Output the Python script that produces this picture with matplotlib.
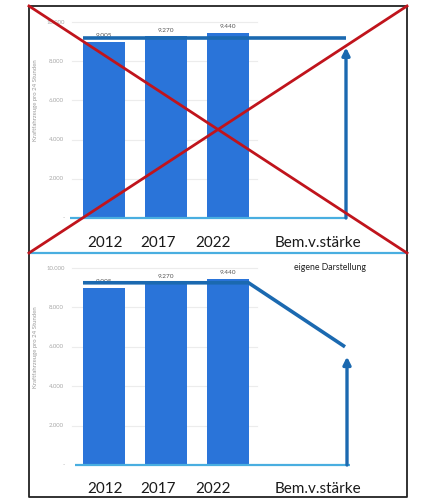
import matplotlib
matplotlib.use("Agg")
import matplotlib.pyplot as plt
from matplotlib.lines import Line2D

# ---------------- data ----------------
years = ["2012", "2017", "2022"]
values = [9005, 9270, 9440]
value_labels = ["9.005", "9.270", "9.440"]
extra_label = "Bem.v.stärke"
ytick_values = [0, 2000, 4000, 6000, 8000, 10000]
ytick_labels = ["-", "2.000", "4.000", "6.000", "8.000", "10.000"]
ylabel = "Kraftfahrzeuge pro 24 Stunden"
note = "eigene Darstellung"
top_line_level = 9200      # horizontal line (upper, crossed-out panel)
top_arrow_tip = 8700
bottom_line_level = 9250   # line start level (lower panel)
bottom_line_end = 6000     # line end (projection)
bottom_arrow_tip = 5500

# ---------------- style ----------------
W, H = 424, 499
BAR = "#2a74d9"
LINE = "#1b69b0"
BASE = "#49aee0"
GRID = "#ececec"
TICK = "#a8a8a8"
RED = "#c0141c"
FONT = "Lato"

fig = plt.figure(figsize=(W / 100, H / 100), dpi=100)
fig.patch.set_facecolor("white")

def fx(px):
    return px / W

def fy(py):
    return 1 - py / H

# x mapping: category i -> pixel 104 + 61.75*i
X0, DX = 104.0, 61.75
def xd(px):
    return (px - X0) / DX

bar_w = 42 / DX
label_x = [xd(105), xd(158), xd(213), xd(318)]
arrow_x = xd(346)

def make_panel(py_top, py_bot, py_zero, py_10k):
    ppu = (py_zero - py_10k) / 10000.0
    ax = fig.add_axes([fx(29), fy(py_bot), fx(407) - fx(29), (py_bot - py_top) / H])
    ax.set_xlim(xd(29), xd(407))
    ax.set_ylim(-(py_bot - py_zero) / ppu, (py_zero - py_top) / ppu)
    ax.axis("off")
    return ax, ppu

def common(ax, ppu, py_zero, base_from, base_to, label_py):
    # gridlines
    for v in ytick_values[1:]:
        ax.plot([xd(72), xd(257)], [v, v], color=GRID, lw=0.8, zorder=0)
    # tick labels
    for v, t in zip(ytick_values, ytick_labels):
        xx = xd(64) if t == "-" else xd(56)
        ax.text(xx, v, t, ha="center", va="center", fontsize=4.3,
                color=TICK, family=FONT)
    # y label
    ax.text(xd(36), 6000, ylabel, rotation=90, ha="center", va="center",
            fontsize=4.3, color="#9a9a9a", family=FONT)
    # bars
    xs = list(range(len(years)))
    ax.bar(xs, values, width=bar_w, color=BAR, zorder=2)
    for x, v, t in zip(xs, values, value_labels):
        ax.annotate(t, (x, v), xytext=(0, 4.5), textcoords="offset points",
                    ha="center", va="center", fontsize=4.6, color="#555555",
                    family=FONT, zorder=1)
    # baseline
    ax.plot([xd(base_from), xd(base_to)], [0, 0], color=BASE, lw=1.6,
            zorder=3, solid_capstyle="butt")
    # category labels
    label_v = -(label_py - py_zero) / ppu
    for x, t in zip(label_x, years + [extra_label]):
        ax.text(x, label_v, t, ha="center", va="center", fontsize=11,
                color="#1a1a1a", family=FONT)

# ----- top panel (crossed out) -----
ax1, ppu1 = make_panel(6, 253, 218, 22)
common(ax1, ppu1, 218, 70, 347, 243)
ax1.plot([-0.5 * bar_w, arrow_x], [top_line_level, top_line_level],
         color=LINE, lw=2.6, zorder=4, solid_capstyle="butt")
ax1.annotate("", xy=(arrow_x, top_arrow_tip), xytext=(arrow_x, 0),
             arrowprops=dict(arrowstyle="-|>", color=LINE, lw=2.4,
                             mutation_scale=11, shrinkA=0, shrinkB=0),
             zorder=4)

# ----- bottom panel -----
ax2, ppu2 = make_panel(253, 497, 465, 268)
common(ax2, ppu2, 465, 75, 350, 489)
ax2.plot([-0.5 * bar_w, 2 + 0.5 * bar_w, xd(345)],
         [bottom_line_level, bottom_line_level, bottom_line_end],
         color=LINE, lw=2.6, zorder=4, solid_capstyle="butt",
         solid_joinstyle="miter")
ax2.annotate("", xy=(xd(347), bottom_arrow_tip), xytext=(xd(347), 0),
             arrowprops=dict(arrowstyle="-|>", color=LINE, lw=2.4,
                             mutation_scale=11, shrinkA=0, shrinkB=0),
             zorder=4)
ax2.text(xd(330), -(267 - 465) / ppu2, note, ha="center", va="center",
         fontsize=6.3, color="#222222", family=FONT)

# ----- frame, separator, red cross -----
def fline(xs, ys, **kw):
    fig.add_artist(Line2D([fx(x) for x in xs], [fy(y) for y in ys],
                          transform=fig.transFigure, **kw))

fline([29, 407], [253, 253], color=BASE, lw=1.6, zorder=5)
fline([29, 407, 407, 29, 29], [6, 6, 497, 497, 6], color="#222222", lw=1.3,
      zorder=6)
fline([29, 407], [6, 253], color=RED, lw=2.0, zorder=7)
fline([407, 29], [6, 253], color=RED, lw=2.0, zorder=7)

fig.savefig("out.png", dpi=100, facecolor="white")
